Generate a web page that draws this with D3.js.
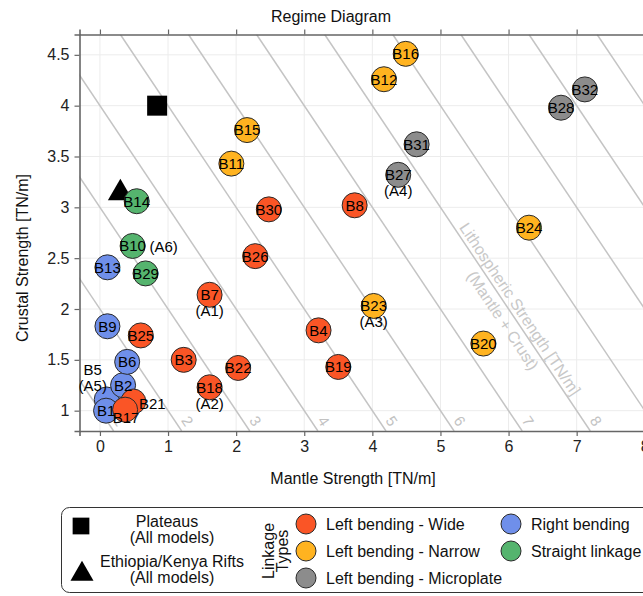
<!DOCTYPE html>
<html>
<head>
<meta charset="utf-8">
<script src="https://cdn.jsdelivr.net/npm/d3@7"></script>
<style>
  html, body { margin: 0; padding: 0; background: #fff; }
  svg { display: block; font-family: "Liberation Sans", Arial, sans-serif; }
</style>
</head>
<body>
<svg id="chart" width="643" height="596"></svg>
<script>
// Model runs: mantle strength, crustal strength, linkage type
const models  = ["B5","B1","B2","B6","B21","B17","B9","B13","B10","B29","B14","B25","B3","B18","B22","B7","B26","B30","B4","B19","B8","B11","B15","B12","B16","B23","B20","B24","B27","B31","B28","B32"];
const mantle  = [0.10,0.09,0.34,0.40,0.49,0.37,0.11,0.11,0.48,0.67,0.54,0.60,1.23,1.61,2.03,1.61,2.28,2.48,3.21,3.50,3.74,1.93,2.16,4.17,4.49,4.02,5.63,6.30,4.38,4.65,6.77,7.12];
const crust   = [1.11,1.00,1.25,1.48,1.09,1.01,1.83,2.41,2.62,2.35,3.06,1.74,1.50,1.23,1.42,2.14,2.52,2.98,1.79,1.43,3.02,3.43,3.76,4.26,4.51,2.03,1.66,2.80,3.32,3.62,3.98,4.16];
const linkage = ["R","R","R","R","W","W","R","R","S","S","S","W","W","W","W","W","W","W","W","W","W","N","N","N","N","N","N","N","M","M","M","M"];
// Analogue references attached to some runs
const notedModels = ["B7","B18","B23","B27","B5","B10"];
const notes       = ["(A1)","(A2)","(A3)","(A4)","(A5)","(A6)"];

// Natural examples
const plateauMantle = [0.84], plateauCrust = [4.0];
const riftMantle    = [0.30], riftCrust    = [3.14];

// Linkage type legend
const typeKeys   = ["W","N","M","R","S"];
const typeNames  = ["Left bending - Wide","Left bending - Narrow","Left bending - Microplate","Right bending","Straight linkage"];
const typeColors = ["#fa5526","#ffb320","#8c8c8c","#6f8fea","#55b46e"];

// Axis ticks and iso-strength lines (mantle + crust)
const xTicks = [0,1,2,3,4,5,6,7,8];
const yTicks = [1,1.5,2,2.5,3,3.5,4,4.5];
const totals = [1,2,3,4,5,6,7,8,9,10,11,12,13];

const svg = d3.select("#chart");
const x = d3.scaleLinear().domain([-0.3, 8.3]).range([79.5, 665.2]);
const y = d3.scaleLinear().domain([0.8, 4.7]).range([431, 34.5]);
const color = d3.scaleOrdinal().domain(typeKeys).range(typeColors);
const [x0, x1] = x.range(), [y0, y1] = y.range();

svg.append("clipPath").attr("id", "plot")
  .append("rect").attr("x", x0).attr("y", y1).attr("width", x1 - x0).attr("height", y0 - y1);

// grid
const grid = svg.append("g").attr("stroke", "#ececec").attr("stroke-width", 1);
grid.selectAll(".gx").data(xTicks).join("line")
  .attr("x1", d => x(d)).attr("x2", d => x(d)).attr("y1", y0).attr("y2", y1);
grid.selectAll(".gy").data(yTicks).join("line")
  .attr("y1", d => y(d)).attr("y2", d => y(d)).attr("x1", x0).attr("x2", x1);

// iso-strength lines
const angle = Math.atan2(y(0) - y(1), x(1) - x(0)) * 180 / Math.PI;
const iso = svg.append("g").attr("clip-path", "url(#plot)");
iso.selectAll("line").data(totals).join("line")
  .attr("x1", t => x(t - 0.8)).attr("y1", y(0.8))
  .attr("x2", t => x(t - 4.7)).attr("y2", y(4.7))
  .attr("stroke", "#c4c4c4").attr("stroke-width", 1.5);
const yLab = y.invert(y0 - 4.2);
iso.selectAll("text").data(totals.filter(t => t - yLab < 8.6)).join("text")
  .attr("transform", t => `translate(${x(t - yLab)},${y(yLab)}) rotate(${angle})`)
  .attr("text-anchor", "middle").attr("dy", -5)
  .attr("font-size", 15).attr("fill", "#c2c2c2")
  .text(t => t);

// iso-line caption
const cap = svg.append("text")
  .attr("transform", `translate(${x(6.17)},${y(2.0)}) rotate(${angle})`)
  .attr("text-anchor", "middle").attr("font-size", 16).attr("fill", "#c8c8c8");
cap.append("tspan").attr("x", 0).attr("dy", "0.35em").text("Lithospheric Strength [TN/m]");
cap.append("tspan").attr("x", 0).attr("dy", "1.3em").text("(Mantle + Crust)");

// axes
const axisColor = "#666";
function styleAxis(g) {
  g.selectAll(".domain").attr("stroke", axisColor).attr("stroke-width", 1.6);
  g.selectAll(".tick line").attr("stroke", axisColor).attr("stroke-width", 1.2);
  g.selectAll(".tick text").attr("fill", "#222").attr("font-size", 16).attr("font-family", "Liberation Sans, Arial, sans-serif");
}
svg.append("g").attr("transform", `translate(0,${y0})`)
  .call(d3.axisBottom(x).tickValues(xTicks).tickFormat(d3.format("d")).tickSizeOuter(0).tickSize(5).tickPadding(5))
  .call(styleAxis);
svg.append("g").attr("transform", `translate(0,${y1})`)
  .call(d3.axisTop(x).tickValues(xTicks).tickFormat("").tickSizeOuter(0).tickSize(5))
  .call(styleAxis);
svg.append("g").attr("transform", `translate(${x0},0)`)
  .call(d3.axisLeft(y).tickValues(yTicks).tickFormat(d => d).tickSizeOuter(0).tickSize(5).tickPadding(5))
  .call(styleAxis);

// titles
svg.append("text").attr("x", 331).attr("y", 22).attr("text-anchor", "middle")
  .attr("font-size", 16).attr("fill", "#111").text("Regime Diagram");
svg.append("text").attr("x", 353).attr("y", 484).attr("text-anchor", "middle")
  .attr("font-size", 16).attr("fill", "#111").text("Mantle Strength [TN/m]");
svg.append("text").attr("transform", `translate(28,258) rotate(-90)`).attr("text-anchor", "middle")
  .attr("font-size", 16).attr("fill", "#111").text("Crustal Strength [TN/m]");

// natural examples
svg.append("path").attr("d", d3.symbol(d3.symbolSquare, 400)())
  .attr("transform", `translate(${x(plateauMantle[0])},${y(plateauCrust[0])})`).attr("fill", "#000");
svg.append("path").attr("d", d3.symbol(d3.symbolTriangle, 270)())
  .attr("transform", `translate(${x(riftMantle[0])},${y(riftCrust[0])})`).attr("fill", "#000");

// model runs
const runs = models.map((m, i) => ({ m, mx: mantle[i], cy: crust[i], t: linkage[i] }));
svg.append("g").selectAll("circle").data(runs).join("circle")
  .attr("cx", d => x(d.mx)).attr("cy", d => y(d.cy)).attr("r", 12.5)
  .attr("fill", d => color(d.t)).attr("stroke", "#2a2a2a").attr("stroke-width", 1);

// label offsets for crowded runs
const shift = { B5: [-14, -30], B21: [19, 2], B17: [1, 8] };
const noteShift = { B5: [-14, -14], B10: [31, 1] };
const labels = svg.append("g").attr("font-size", 15).attr("fill", "#000").attr("text-anchor", "middle");
labels.selectAll("text.run").data(runs).join("text").attr("class", "run")
  .attr("x", d => x(d.mx) + (shift[d.m] ? shift[d.m][0] : 0))
  .attr("y", d => y(d.cy) + (shift[d.m] ? shift[d.m][1] : 0))
  .attr("dy", "0.36em").text(d => d.m);
const noted = notedModels.map((m, i) => ({ m, note: notes[i], r: runs.find(r => r.m === m) }));
labels.selectAll("text.note").data(noted).join("text").attr("class", "note")
  .attr("x", d => x(d.r.mx) + (noteShift[d.m] ? noteShift[d.m][0] : 0))
  .attr("y", d => y(d.r.cy) + (noteShift[d.m] ? noteShift[d.m][1] : 16))
  .attr("dy", "0.36em").text(d => d.note);

// legend
const lg = svg.append("g");
lg.append("rect").attr("x", 61.5).attr("y", 507.5).attr("width", 700).attr("height", 85)
  .attr("rx", 8).attr("fill", "#fff").attr("stroke", "#333").attr("stroke-width", 1);
lg.append("path").attr("d", d3.symbol(d3.symbolSquare, 280)()).attr("transform", "translate(81,526)").attr("fill", "#000");
lg.append("path").attr("d", d3.symbol(d3.symbolTriangle, 230)()).attr("transform", "translate(82,574)").attr("fill", "#000");
const lt = lg.append("g").attr("font-size", 16).attr("fill", "#111");
[["Plateaus", 521, 167], ["(All models)", 537, 172], ["Ethiopia/Kenya Rifts", 561, 172], ["(All models)", 577, 172]].forEach(([s, yy, xx]) =>
  lt.append("text").attr("x", xx).attr("y", yy).attr("dy", "0.36em").attr("text-anchor", "middle").text(s));
lt.append("text").attr("transform", "translate(274,551) rotate(-90)").attr("text-anchor", "middle").text("Linkage");
lt.append("text").attr("transform", "translate(288,551) rotate(-90)").attr("text-anchor", "middle").text("Types");
const slots = [[306, 524], [306, 551], [306, 578], [511, 524], [511, 551]];
typeKeys.forEach((k, i) => {
  const [cx, cy] = slots[i];
  lg.append("circle").attr("cx", cx).attr("cy", cy).attr("r", 10)
    .attr("fill", color(k)).attr("stroke", "#2a2a2a").attr("stroke-width", 1);
  lt.append("text").attr("x", cx + 20).attr("y", cy).attr("dy", "0.36em").text(typeNames[i]);
});
</script>
</body>
</html>
